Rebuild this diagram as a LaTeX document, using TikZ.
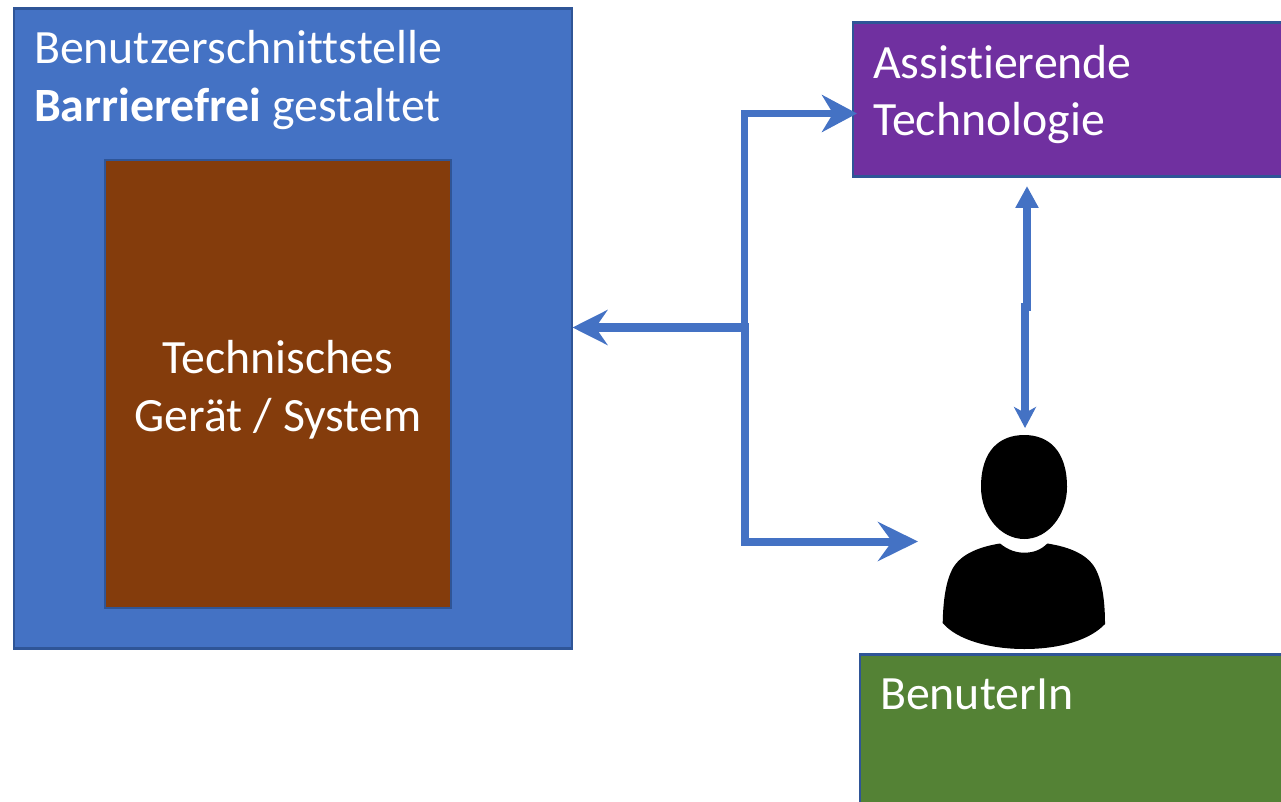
\documentclass[tikz,border=0pt]{standalone}
\usepackage{fontspec}
\setmainfont[Ligatures=NoCommon]{Carlito}
\usetikzlibrary{arrows.meta}
\definecolor{edgeblue}{HTML}{2F5597}
\definecolor{uiblue}{HTML}{4472C4}
\definecolor{devbrown}{HTML}{843C0C}
\definecolor{atpurple}{HTML}{7030A0}
\definecolor{usergreen}{HTML}{548235}
\tikzset{
  box/.style={draw=edgeblue,line width=2.5pt,inner sep=0pt,outer sep=0pt,anchor=north west},
  label/.style={text=white,font=\fontsize{47.8}{50}\selectfont,inner sep=0pt,outer sep=0pt},
  link/.style={draw=uiblue,line cap=butt,line join=miter},
  headH/.style={-{Stealth[length=35pt,width=37pt,inset=11pt]}},
  headB/.style={-{Stealth[length=40pt,width=39pt,inset=14pt]}},
  headV/.style={-{Stealth[length=22pt,width=22pt,inset=0pt]}},
  headW/.style={-{Stealth[length=21pt,width=22pt,inset=6pt]}},
}
\begin{document}
\begin{tikzpicture}[x=1pt,y=-1pt]
\useasboundingbox (0,0) rectangle (1281,802);
\clip (0,0) rectangle (1281,802);
\node[box,fill=uiblue,minimum width=558pt,minimum height=640pt] (ui) at (14,8.5) {};
\node[box,fill=devbrown,minimum width=346pt,minimum height=448pt] (dev) at (105,160) {};
\node[box,fill=atpurple,minimum width=440pt,minimum height=154pt] (at) at (853,22.5) {};
\node[box,fill=usergreen,minimum width=440pt,minimum height=160pt] (user) at (860,654.5) {};
\node[label,anchor=base west] (t1) at (34,64) {Benutzerschnittstelle};
\node[label,anchor=base west] (t2) at (34,122) {\textbf{Barrierefrei} gestaltet};
\node[label,anchor=base] (t3) at (278,373) {Technisches};
\node[label,anchor=base] (t4) at (278,431) {Gerät / System};
\node[label,anchor=base west] (t5) at (873,79) {Assistierende};
\node[label,anchor=base west] (t6) at (873,136) {Technologie};
\node[label,anchor=base west] (t7) at (880,709) {BenuterIn};
% person
\fill[black] (1024.3,435) .. controls (1000,435) and (981,450) .. (981,487)
  .. controls (981,515) and (1000,539) .. (1024.3,539)
  .. controls (1048,539) and (1067,515) .. (1067,487)
  .. controls (1067,450) and (1048,435) .. (1024.3,435) -- cycle;
\fill[black] (1000,543.5) .. controls (1008,550) and (1016,552.7) .. (1024.3,552.7)
  .. controls (1033,552.7) and (1041,550) .. (1047.3,543.5)
  .. controls (1070,547) and (1090,555) .. (1097,572)
  .. controls (1103,585) and (1105,605) .. (1105,624)
  .. controls (1090,640) and (1060,649) .. (1024.3,649)
  .. controls (990,649) and (957,640) .. (942.7,623)
  .. controls (943,605) and (945,585) .. (951,572)
  .. controls (958,555) and (978,547) .. (1000,543.5) -- cycle;
\node[inner sep=0pt,outer sep=0pt,minimum width=163pt,minimum height=214pt] (person) at (1024,542) {};
% connector end points
\coordinate (tipat) at (857,113.5);
\coordinate (tipui) at (572.5,327.5);
\coordinate (tipuser) at (918,541.5);
\coordinate (cornerat) at (744.5,113.5);
\coordinate (junction) at (745,327.5);
\coordinate (corneruser) at (745,541.5);
\coordinate (tipup) at (1027,186);
\coordinate (midup) at (1027,311);
\coordinate (midlow) at (1025,303);
\coordinate (tiplow) at (1025,428);
% connectors
\draw[link,line width=7pt,headH] (744.5,329) -- (cornerat) -- (tipat);
\draw[link,line width=8pt,headB] (745,325) -- (corneruser) -- (tipuser);
\draw[link,line width=9pt,-{Stealth[length=35pt,width=35pt,inset=12pt]}] (749,327.5) -- (tipui);
\draw[link,line width=8pt,headV] (midup) -- (tipup);
\draw[link,line width=8pt,headW] (midlow) -- (tiplow);
\end{tikzpicture}
\end{document}
